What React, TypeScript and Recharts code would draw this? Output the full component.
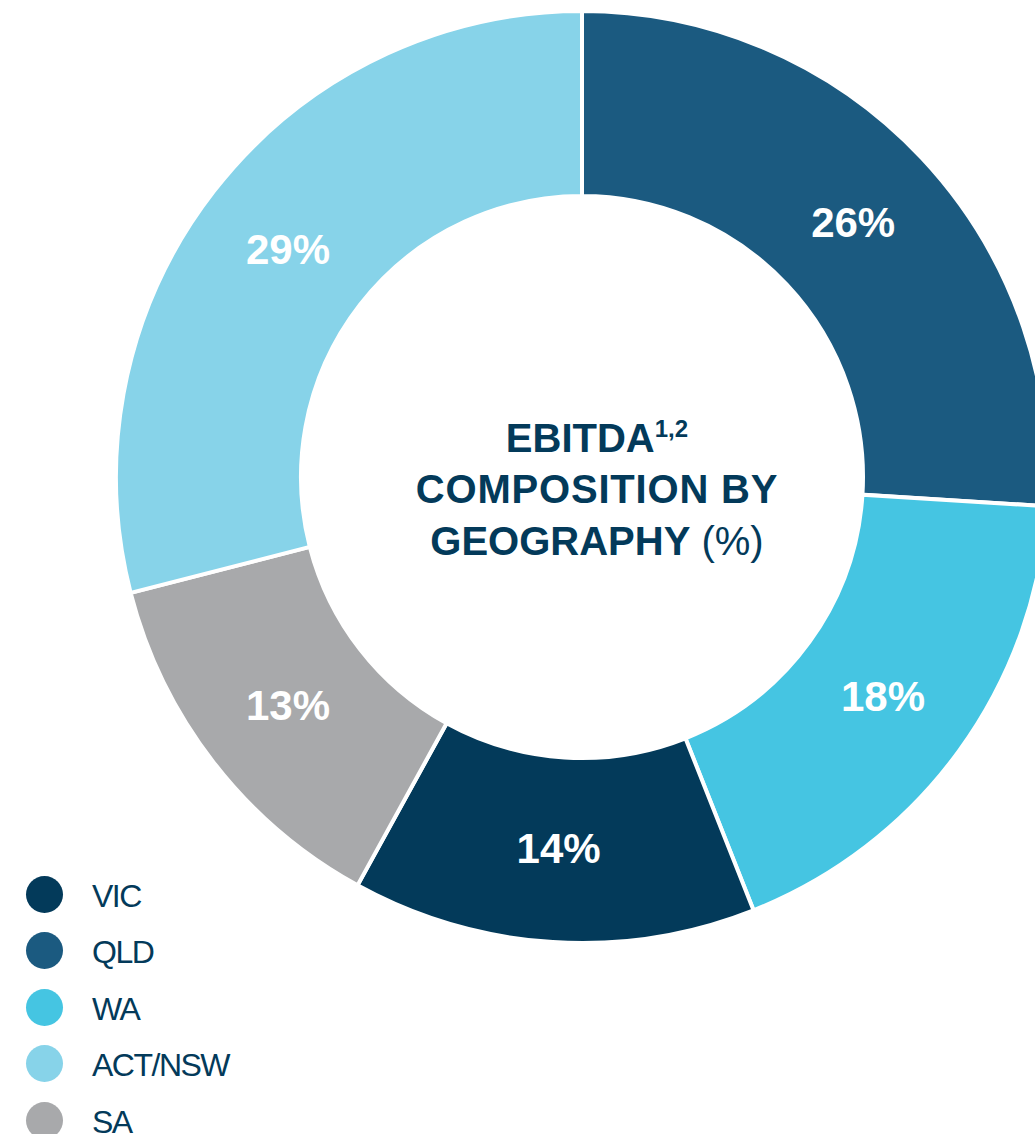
import { PieChart, Pie, Cell, Legend } from "recharts";

// slices go clockwise from 12 o'clock
const regions = ["QLD", "WA", "VIC", "SA", "ACT/NSW"];
const shares = [26, 18, 14, 13, 29];
const colors = ["#1b5a80", "#45c5e2", "#033a5a", "#a8a9ab", "#87d3e9"];

// legend is listed in a different order than the ring
const legendOrder = ["VIC", "QLD", "WA", "ACT/NSW", "SA"];

const data = regions.map((name, i) => ({ name, value: shares[i] }));

const NAVY = "#033a5a";
const FONT = "'Liberation Sans', Arial, sans-serif";
const RAD = Math.PI / 180;

const renderPct = (props: any) => {
  const { cx, cy, midAngle, value } = props;
  const r = 372;
  const x = cx + r * Math.cos(-midAngle * RAD);
  const y = cy + r * Math.sin(-midAngle * RAD);
  return (
    <text
      x={x}
      y={y + 15}
      fill="#fff"
      textAnchor="middle"
      fontFamily={FONT}
      fontWeight={700}
      fontSize={42}
    >
      {`${value}%`}
    </text>
  );
};

// title sits in the donut hole, drawn as an overlay svg
const CenterTitle = () => {
  const x = 597;
  return (
    <svg
      width={1035}
      height={1134}
      style={{ position: "absolute", left: 0, top: 0, pointerEvents: "none" }}
    >
      <text textAnchor="middle" fill={NAVY} fontFamily={FONT} fontSize={40}>
        <tspan x={x} y={452} fontWeight={700}>
          EBITDA
          <tspan fontSize={24} dy={-15}>
            1,2
          </tspan>
        </tspan>
        <tspan x={x} y={503} fontWeight={700} letterSpacing={0.8}>
          COMPOSITION BY
        </tspan>
        <tspan x={x} y={555} fontWeight={700}>
          GEOGRAPHY<tspan fontWeight={400}> (%)</tspan>
        </tspan>
      </text>
    </svg>
  );
};

const LegendList = () => (
  <div>
    {legendOrder.map((name) => {
      const c = colors[regions.indexOf(name)];
      return (
        <div
          key={name}
          style={{ display: "flex", alignItems: "center", height: 56.5 }}
        >
          <span
            style={{
              width: 37,
              height: 37,
              borderRadius: "50%",
              background: c,
              marginLeft: 26,
              marginRight: 29,
              flexShrink: 0,
            }}
          />
          <span
            style={{
              fontFamily: FONT,
              fontSize: 32,
              letterSpacing: -1.5,
              color: NAVY,
              marginTop: 4,
            }}
          >
            {name}
          </span>
        </div>
      );
    })}
  </div>
);

export default function App() {
  return (
    <div
      style={{
        position: "absolute",
        left: 0,
        top: 0,
        width: 1035,
        height: 1134,
        overflow: "hidden",
        background: "#fff",
      }}
    >
      <PieChart
        width={1035}
        height={1134}
        margin={{ top: 0, right: 0, bottom: 0, left: 0 }}
      >
        <Pie
          data={data}
          dataKey="value"
          nameKey="name"
          cx={582}
          cy={477}
          innerRadius={281}
          outerRadius={466}
          startAngle={90}
          endAngle={-270}
          stroke="#fff"
          strokeWidth={4}
          label={renderPct}
          labelLine={false}
          isAnimationActive={false}
        >
          {data.map((d, i) => (
            <Cell key={d.name} fill={colors[i]} />
          ))}
        </Pie>
        <Legend
          content={<LegendList />}
          wrapperStyle={{ left: 0, top: 866, width: 320, bottom: "auto" }}
        />
      </PieChart>
      <CenterTitle />
    </div>
  );
}
